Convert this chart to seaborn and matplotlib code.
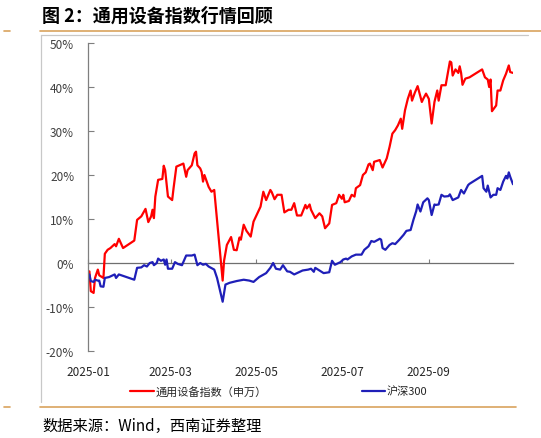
import numpy as np
import pandas as pd
import matplotlib
matplotlib.use("Agg")
import matplotlib.pyplot as plt
import matplotlib.dates as mdates
from matplotlib.lines import Line2D
from matplotlib.ticker import FuncFormatter
import seaborn as sns

# 数据：自 2025-01-01 起的天数，累计涨跌幅（%）
base_date = "2025-01-01"

ty_day = [1, 2, 4, 5, 7, 8, 10, 11, 12, 14,
          16, 19, 20, 22, 25, 33, 35, 38, 41, 43,
          45, 46, 47, 48, 50, 53, 54, 55, 57, 60,
          61, 63, 68, 70, 71, 74, 76, 77, 78, 80,
          81, 82, 83, 86, 88, 90, 91, 96, 97, 99,
          102, 104, 106, 108, 109, 111, 113, 116, 118, 123,
          125, 127, 130, 131, 133, 135, 138, 140, 143, 145,
          147, 149, 152, 155, 156, 158, 159, 162, 165, 167,
          169, 172, 174, 177, 179, 181, 182, 183, 186, 188,
          190, 191, 194, 196, 198, 200, 201, 203, 204, 208,
          210, 213, 215, 217, 219, 221, 223, 224, 226, 228,
          230, 231, 233, 235, 238, 239, 241, 243, 245, 247,
          249, 250, 252, 255, 258, 259, 260, 262, 264, 265,
          266, 267, 269, 272, 281, 283, 285, 286, 287, 288,
          291, 292, 294, 296, 298, 300, 301, 303]
ty_val = [-1.9, -6.4, -6.8, -3.4, -1.5, -2.8, -3.2, -3.4, 2.1, 3.0,
          3.4, 4.3, 3.8, 5.5, 3.4, 5.1, 9.8, 10.6, 12.3, 9.3,
          10.6, 12.1, 10.2, 15.1, 18.9, 19.1, 22.1, 21.1, 15.1, 14.3,
          17.0, 21.9, 22.6, 19.6, 21.1, 22.2, 24.9, 25.3, 22.2, 21.5,
          20.7, 18.5, 20.0, 17.3, 16.2, 16.6, 13.2, -4.0, 0.5, 4.1,
          5.9, 3.0, 2.9, 5.8, 5.3, 8.7, 7.3, 6.0, 9.4, 12.8,
          16.2, 14.3, 16.6, 16.1, 14.5, 15.5, 15.5, 11.5, 12.1, 12.1,
          13.6, 10.8, 10.8, 13.2, 12.4, 13.3, 12.1, 10.2, 11.3, 10.6,
          7.9, 9.0, 13.2, 13.6, 15.5, 14.6, 15.5, 13.8, 14.1, 15.5,
          15.1, 17.0, 17.7, 20.0, 20.6, 22.4, 22.6, 21.1, 23.0, 23.4,
          21.7, 23.8, 26.4, 29.4, 30.2, 31.3, 32.8, 30.5, 34.7, 37.3,
          39.2, 36.9, 38.7, 40.2, 36.6, 37.3, 38.5, 37.3, 31.7, 36.6,
          39.2, 36.9, 40.4, 40.4, 45.8, 45.6, 42.6, 44.0, 43.2, 44.7,
          43.2, 40.5, 41.9, 42.2, 44.0, 42.2, 41.7, 40.0, 41.7, 34.5,
          35.8, 39.2, 39.2, 41.5, 43.0, 44.9, 43.4, 43.2]

hs_day = [1, 2, 4, 5, 7, 8, 9, 11, 12, 15,
          19, 20, 22, 33, 35, 38, 40, 42, 44, 46,
          47, 49, 50, 52, 54, 55, 56, 57, 60, 62,
          64, 67, 70, 74, 76, 78, 80, 82, 84, 86,
          90, 92, 96, 98, 101, 106, 111, 115, 118, 122,
          127, 130, 132, 134, 137, 139, 142, 144, 147, 149,
          153, 157, 159, 161, 162, 165, 168, 172, 174, 176,
          180, 182, 184, 185, 188, 191, 195, 197, 200, 202,
          204, 208, 209, 210, 212, 215, 217, 219, 222, 225,
          227, 230, 232, 234, 235, 237, 239, 242, 243, 245,
          247, 248, 250, 252, 254, 257, 258, 260, 264, 266,
          268, 271, 272, 281, 282, 284, 285, 287, 289, 291,
          292, 294, 296, 298, 299, 300, 301, 303]
hs_val = [-2.6, -4.1, -4.3, -3.8, -4.0, -4.0, -5.3, -5.4, -3.4, -3.2,
          -2.6, -3.4, -2.6, -3.8, -1.1, -1.0, -0.5, -0.8, 0.0, 0.2,
          -0.5, 0.0, 1.0, 0.5, 0.8, -0.4, 0.8, -1.3, -1.3, 0.2,
          -0.2, -0.5, 1.7, 1.7, 1.9, -0.5, 0.0, -0.4, -0.2, -0.8,
          -1.5, -3.4, -8.8, -4.9, -4.5, -4.1, -3.8, -4.0, -4.3, -3.2,
          -2.3, -1.1, 0.0, -1.3, -1.5, -0.5, -1.9, -2.0, -2.6, -2.3,
          -1.7, -1.5, -1.3, -2.0, -1.1, -1.7, -2.3, -2.1, 0.5, -0.4,
          0.2, 0.8, 1.0, 0.8, 1.5, 1.9, 1.9, 3.0, 3.8, 5.0,
          4.8, 5.5, 5.3, 3.4, 3.0, 4.1, 4.5, 4.3, 5.3, 6.4,
          7.3, 7.5, 9.8, 11.8, 13.3, 11.7, 13.8, 14.7, 14.3, 10.9,
          13.3, 13.2, 13.3, 15.5, 15.1, 15.2, 15.6, 14.3, 14.9, 16.6,
          15.8, 17.7, 18.0, 19.8, 17.0, 16.2, 17.6, 14.9, 15.5, 15.5,
          17.0, 16.6, 18.5, 19.8, 19.2, 20.6, 19.6, 17.9]

names = ["通用设备指数（申万）", "沪深300"]
colors = ["#FF0000", "#1F1FB8"]
tick_months = ["2025-01-01", "2025-03-01", "2025-05-01", "2025-07-01", "2025-09-01"]
end_date = "2025-10-31"

t0 = pd.Timestamp(base_date)
df = pd.concat([
    pd.DataFrame({"date": t0 + pd.to_timedelta(ty_day, unit="D"), "value": ty_val, "name": names[0]}),
    pd.DataFrame({"date": t0 + pd.to_timedelta(hs_day, unit="D"), "value": hs_val, "name": names[1]}),
])

sns.set_theme(style="white")
plt.rcParams["font.family"] = ["Noto Sans CJK SC", "DejaVu Sans"]

fig = plt.figure(figsize=(5.41, 4.39), dpi=100)
ax = fig.add_axes([88 / 541, 1 - 352 / 439, 425 / 541, 308 / 439])

sns.lineplot(data=df, x="date", y="value", hue="name", palette=colors,
             hue_order=names, linewidth=1.6, ax=ax, estimator=None, sort=False)
ax.get_legend().remove()

ax.set_ylim(-20, 50)
ax.set_yticks(np.arange(-20, 51, 10))
ax.yaxis.set_major_formatter(FuncFormatter(lambda v, p: f"{v:.0f}%"))
ax.set_xlim(t0, pd.Timestamp(end_date))
ticks = pd.to_datetime(tick_months)
ax.set_xticks(ticks)
ax.xaxis.set_major_formatter(mdates.DateFormatter("%Y-%m"))
ax.set_xlabel("")
ax.set_ylabel("")

for s in ["top", "right", "bottom"]:
    ax.spines[s].set_visible(False)
ax.spines["left"].set_color("#7F7F7F")
ax.spines["left"].set_linewidth(0.9)
ax.tick_params(axis="y", direction="in", length=4, width=0.8, color="#7F7F7F",
               labelsize=8.5, labelcolor="#404040", pad=10, left=True)
ax.tick_params(axis="x", length=0, labelsize=8.5, labelcolor="#262626", pad=10)

# 零轴线带刻度
zero_ax = ax.secondary_xaxis(20 / 70)
zero_ax.set_xticks(ticks)
zero_ax.tick_params(direction="in", length=3, width=0.8, color="#7F7F7F", labelbottom=False, labeltop=False)
for s in zero_ax.spines.values():
    s.set_color("#6F6F6F")
    s.set_linewidth(0.9)

handles, labels = ax.get_legend_handles_labels()
fig.legend(handles, labels, loc="center", bbox_to_anchor=(279 / 541, 1 - 392 / 439), ncol=2,
           frameon=False, fontsize=8, handlelength=2.1, handletextpad=0.2, columnspacing=8.5,
           labelcolor="#262626")

# 标题、边框与来源
fig.text(42 / 541, 1 - 16 / 439, "图 2：通用设备指数行情回顾", fontsize=13, fontweight="bold",
         va="center", ha="left", color="#000000")
orange = "#D9A35E"
for yy in [32, 408]:
    fig.add_artist(Line2D([40 / 541, 516 / 541 if yy == 408 else 1.0], [1 - yy / 439] * 2,
                          transform=fig.transFigure, color=orange, linewidth=1.2))
    fig.add_artist(Line2D([4 / 541, 10 / 541], [1 - yy / 439] * 2,
                          transform=fig.transFigure, color=orange, linewidth=1.2))
fig.add_artist(Line2D([41 / 541, 41 / 541], [1 - 36 / 439, 1 - 403 / 439],
                      transform=fig.transFigure, color="#C8C8C8", linewidth=0.9))
fig.add_artist(Line2D([41 / 541, 528 / 541], [1 - 36 / 439, 1 - 36 / 439],
                      transform=fig.transFigure, color="#C8C8C8", linewidth=0.9))
fig.text(42 / 541, 1 - 426 / 439, "数据来源：Wind，西南证券整理", fontsize=11, style="italic",
         va="center", ha="left", color="#000000")

fig.savefig("out.png", dpi=100)
